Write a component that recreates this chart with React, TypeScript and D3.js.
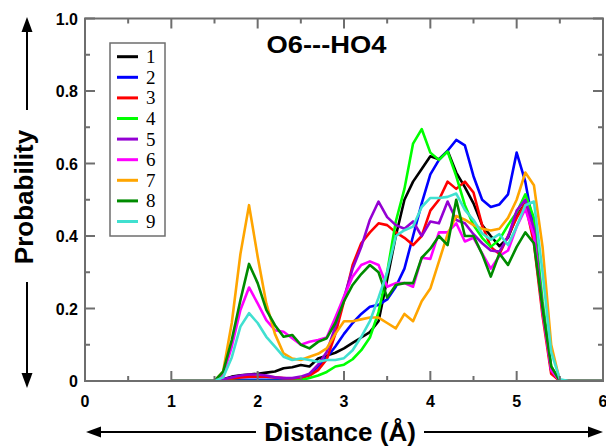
import React from "react";
import * as d3 from "d3";

const distances: number[] = [
  1.0, 1.1, 1.2, 1.3, 1.4, 1.5, 1.6, 1.7, 1.8, 1.9,
  2.0, 2.1, 2.2, 2.3, 2.4, 2.5, 2.6, 2.7, 2.8, 2.9,
  3.0, 3.1, 3.2, 3.3, 3.4, 3.5, 3.6, 3.7, 3.8, 3.9,
  4.0, 4.1, 4.2, 4.3, 4.4, 4.5, 4.6, 4.7, 4.8, 4.9,
  5.0, 5.1, 5.2, 5.3, 5.4, 5.5, 5.6, 5.7, 5.8, 5.9, 6.0,
];

const s1: number[] = [
  0, 0, 0, 0, 0, 0, 0.005, 0.012, 0.016, 0.018,
  0.02, 0.023, 0.026, 0.035, 0.038, 0.044, 0.04, 0.062, 0.07, 0.078,
  0.09, 0.105, 0.12, 0.135, 0.165, 0.28, 0.4, 0.5, 0.55, 0.585,
  0.62, 0.612, 0.635, 0.575, 0.535, 0.49, 0.43, 0.4, 0.372, 0.395,
  0.455, 0.49, 0.4, 0.2, 0.03, 0, 0, 0, 0, 0, 0,
];
const s2: number[] = [
  0, 0, 0, 0, 0, 0, 0.002, 0.003, 0.003, 0.003,
  0.003, 0.003, 0.003, 0.004, 0.005, 0.008, 0.018, 0.04, 0.065, 0.095,
  0.13, 0.16, 0.185, 0.205, 0.21, 0.225, 0.26, 0.31, 0.4, 0.49,
  0.57, 0.61, 0.635, 0.665, 0.65, 0.565, 0.5, 0.48, 0.487, 0.515,
  0.63, 0.55, 0.42, 0.2, 0.03, 0, 0, 0, 0, 0, 0,
];
const s3: number[] = [
  0, 0, 0, 0, 0, 0, 0.003, 0.006, 0.01, 0.012,
  0.012, 0.012, 0.01, 0.008, 0.006, 0.008, 0.015, 0.03, 0.06, 0.13,
  0.22, 0.32, 0.38, 0.41, 0.435, 0.43, 0.41, 0.395, 0.375, 0.4,
  0.47, 0.5, 0.55, 0.53, 0.55, 0.52, 0.43, 0.37, 0.35, 0.4,
  0.45, 0.49, 0.38, 0.18, 0.02, 0, 0, 0, 0, 0, 0,
];
const s4: number[] = [
  0, 0, 0, 0, 0, 0, 0, 0, 0, 0,
  0, 0, 0, 0, 0, 0.002, 0.008, 0.015, 0.025, 0.04,
  0.045, 0.06, 0.085, 0.12, 0.19, 0.3, 0.44, 0.53, 0.655, 0.695,
  0.63, 0.61, 0.633, 0.565, 0.485, 0.43, 0.395, 0.37, 0.39, 0.43,
  0.465, 0.515, 0.45, 0.22, 0.04, 0, 0, 0, 0, 0, 0,
];
const s5: number[] = [
  0, 0, 0, 0, 0, 0, 0.005, 0.01, 0.015, 0.018,
  0.018, 0.015, 0.01, 0.008, 0.008, 0.012, 0.02, 0.045, 0.08, 0.15,
  0.23, 0.31, 0.37, 0.445, 0.495, 0.452, 0.43, 0.42, 0.44, 0.4,
  0.44, 0.435, 0.495, 0.444, 0.435, 0.405, 0.38, 0.36, 0.357, 0.398,
  0.47, 0.5, 0.42, 0.2, 0.03, 0, 0, 0, 0, 0, 0,
];
const s6: number[] = [
  0, 0, 0, 0, 0, 0, 0.017, 0.095, 0.196, 0.258,
  0.214, 0.168, 0.14, 0.136, 0.118, 0.1, 0.108, 0.113, 0.12, 0.175,
  0.233, 0.288, 0.32, 0.33, 0.32, 0.26, 0.27, 0.27, 0.26, 0.34,
  0.337, 0.41, 0.41, 0.435, 0.385, 0.395, 0.352, 0.31, 0.345, 0.36,
  0.426, 0.475, 0.4, 0.19, 0.03, 0, 0, 0, 0, 0, 0,
];
const s7: number[] = [
  0, 0, 0, 0, 0, 0, 0.026, 0.16, 0.35, 0.485,
  0.343, 0.214, 0.13, 0.076, 0.062, 0.058, 0.067, 0.075, 0.09, 0.13,
  0.165, 0.165, 0.17, 0.175, 0.175, 0.16, 0.145, 0.185, 0.165, 0.22,
  0.255, 0.33, 0.405, 0.455, 0.445, 0.43, 0.42, 0.415, 0.42, 0.45,
  0.5, 0.575, 0.54, 0.37, 0.1, 0, 0, 0, 0, 0, 0,
];
const s8: number[] = [
  0, 0, 0, 0, 0, 0, 0.026, 0.113, 0.223, 0.323,
  0.27, 0.196, 0.154, 0.122, 0.127, 0.1, 0.09, 0.108, 0.118, 0.16,
  0.22, 0.265, 0.295, 0.32, 0.3, 0.23, 0.265, 0.27, 0.27, 0.34,
  0.365, 0.4, 0.375, 0.5, 0.4, 0.4, 0.35, 0.288, 0.352, 0.32,
  0.37, 0.41, 0.38, 0.2, 0.04, 0, 0, 0, 0, 0, 0,
];
const s9: number[] = [
  0, 0, 0, 0, 0, 0, 0.01, 0.065, 0.15, 0.187,
  0.16, 0.122, 0.095, 0.067, 0.058, 0.062, 0.058, 0.053, 0.058, 0.058,
  0.063, 0.085, 0.122, 0.165, 0.23, 0.3, 0.4, 0.416, 0.426, 0.48,
  0.505, 0.505, 0.508, 0.517, 0.472, 0.444, 0.407, 0.39, 0.405, 0.375,
  0.426, 0.485, 0.495, 0.3, 0.08, 0.005, 0, 0, 0, 0, 0,
];

const seriesNames: string[] = ["1", "2", "3", "4", "5", "6", "7", "8", "9"];
const seriesValues: number[][] = [s1, s2, s3, s4, s5, s6, s7, s8, s9];
const seriesColors: string[] = [
  "#000000", "#0000ff", "#ff0000", "#00ff00", "#9400d3",
  "#ff00ff", "#ffa500", "#008b00", "#40e0d0",
];

const xMajorTicks: number[] = [0, 1, 2, 3, 4, 5, 6];
const xMinorTicks: number[] = [0.5, 1.5, 2.5, 3.5, 4.5, 5.5];
const yMajorTicks: number[] = [0, 0.2, 0.4, 0.6, 0.8, 1.0];
const yTickLabels: string[] = ["0", "0.2", "0.4", "0.6", "0.8", "1.0"];
const yMinorTicks: number[] = [0.1, 0.3, 0.5, 0.7, 0.9];

const W = 606;
const H = 447;
const L = 85;
const R = 603;
const T = 18.5;
const B = 381;

export default function App() {
  const x = d3.scaleLinear().domain([0, 6]).range([L, R]);
  const y = d3.scaleLinear().domain([0, 1]).range([B, T]);
  const line = d3
    .line<number>()
    .x((_, i) => x(distances[i]))
    .y((d) => y(d));

  const frame = "#6e6e6e";
  const sans = "'Liberation Sans', Arial, sans-serif";
  const serif = "'Liberation Serif', 'Times New Roman', serif";

  const legX = 110;
  const legY = 43;
  const legW = 55;
  const legH = 193;
  const legStep = 20.6;

  return (
    <svg
      width={W}
      height={H}
      style={{ position: "absolute", left: 0, top: 0, background: "#fff" }}
    >
      <rect x={0} y={0} width={W} height={H} fill="#fff" />
      <defs>
        <clipPath id="plotClip">
          <rect x={L} y={T - 5} width={R - L} height={B - T + 6} />
        </clipPath>
      </defs>

      {/* series */}
      <g clipPath="url(#plotClip)">
        {seriesValues.map((vals, k) => (
          <path
            key={k}
            d={line(vals) || ""}
            fill="none"
            stroke={seriesColors[k]}
            strokeWidth={2.6}
            strokeLinejoin="round"
          />
        ))}
      </g>

      {/* frame */}
      <rect
        x={L}
        y={T}
        width={R - L}
        height={B - T}
        fill="none"
        stroke={frame}
        strokeWidth={2}
      />
      {xMajorTicks.map((t) => (
        <g key={"xM" + t}>
          <line x1={x(t)} x2={x(t)} y1={B} y2={B - 10} stroke={frame} strokeWidth={2} />
          <line x1={x(t)} x2={x(t)} y1={T} y2={T + 10} stroke={frame} strokeWidth={2} />
          <text
            x={x(t)}
            y={407}
            textAnchor="middle"
            fontFamily={sans}
            fontWeight="bold"
            fontSize={16}
          >
            {String(t)}
          </text>
        </g>
      ))}
      {xMinorTicks.map((t) => (
        <g key={"xm" + t}>
          <line x1={x(t)} x2={x(t)} y1={B} y2={B - 5} stroke={frame} strokeWidth={2} />
          <line x1={x(t)} x2={x(t)} y1={T} y2={T + 5} stroke={frame} strokeWidth={2} />
        </g>
      ))}
      {yMajorTicks.map((t, i) => (
        <g key={"yM" + t}>
          <line x1={L} x2={L + 10} y1={y(t)} y2={y(t)} stroke={frame} strokeWidth={2} />
          <line x1={R} x2={R - 10} y1={y(t)} y2={y(t)} stroke={frame} strokeWidth={2} />
          <text
            x={78}
            y={y(t) + 6}
            textAnchor="end"
            fontFamily={sans}
            fontWeight="bold"
            fontSize={16}
          >
            {yTickLabels[i]}
          </text>
        </g>
      ))}
      {yMinorTicks.map((t) => (
        <g key={"ym" + t}>
          <line x1={L} x2={L + 5} y1={y(t)} y2={y(t)} stroke={frame} strokeWidth={2} />
          <line x1={R} x2={R - 5} y1={y(t)} y2={y(t)} stroke={frame} strokeWidth={2} />
        </g>
      ))}

      {/* title */}
      <text
        x={326.5}
        y={53.3}
        textAnchor="middle"
        fontFamily={sans}
        fontWeight="bold"
        fontSize={23}
        textLength={120}
        lengthAdjust="spacingAndGlyphs"
      >
        O6---HO4
      </text>

      {/* legend */}
      <rect
        x={legX}
        y={legY}
        width={legW}
        height={legH}
        fill="#fff"
        stroke={frame}
        strokeWidth={1.5}
      />
      {seriesNames.map((name, k) => {
        const ly = legY + 13.7 + k * legStep;
        return (
          <g key={"leg" + k}>
            <line
              x1={117}
              x2={138}
              y1={ly}
              y2={ly}
              stroke={seriesColors[k]}
              strokeWidth={3}
            />
            <text x={146} y={ly + 6.5} fontFamily={serif} fontSize={19} fill="#000">
              {name}
            </text>
          </g>
        );
      })}

      {/* y label with arrows */}
      <line x1={27} x2={27} y1={30} y2={110} stroke="#000" strokeWidth={2} />
      <polygon points="27,17 21.5,32 32.5,32" fill="#000" />
      <line x1={27} x2={27} y1={282} y2={375} stroke="#000" strokeWidth={2} />
      <polygon points="27,388 21.5,373 32.5,373" fill="#000" />
      <text
        transform="translate(33,197) rotate(-90)"
        textAnchor="middle"
        fontFamily={sans}
        fontWeight="bold"
        fontSize={26}
      >
        Probability
      </text>

      {/* x label with arrows */}
      <line x1={98} x2={256} y1={432} y2={432} stroke="#000" strokeWidth={2} />
      <polygon points="86,432 101,426.5 101,437.5" fill="#000" />
      <line x1={424} x2={590} y1={432} y2={432} stroke="#000" strokeWidth={2} />
      <polygon points="603,432 588,426.5 588,437.5" fill="#000" />
      <text
        x={340}
        y={441}
        textAnchor="middle"
        fontFamily={sans}
        fontWeight="bold"
        fontSize={26}
      >
        Distance (Å)
      </text>
    </svg>
  );
}
